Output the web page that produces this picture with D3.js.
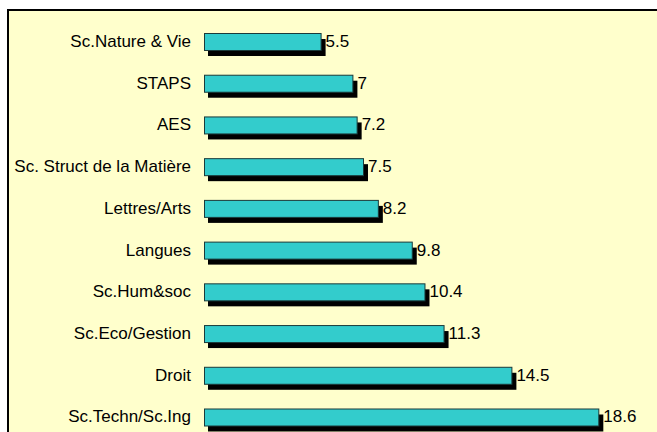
<!DOCTYPE html>
<html>
<head>
<meta charset="utf-8">
<script src="https://cdn.jsdelivr.net/npm/d3@7"></script>
<style>
  html, body { margin: 0; padding: 0; background: #fff; }
  svg { display: block; }
</style>
</head>
<body>
<div id="chart"></div>
<script>
// data, top to bottom
const categories = ['Sc.Nature & Vie','STAPS','AES','Sc. Struct de la Matière','Lettres/Arts',
  'Langues','Sc.Hum&soc','Sc.Eco/Gestion','Droit','Sc.Techn/Sc.Ing'];
const values = [5.5, 7, 7.2, 7.5, 8.2, 9.8, 10.4, 11.3, 14.5, 18.6];

const W = 657, H = 432;
const BAR_H = 17;
const FONT = 'Liberation Sans, Arial, sans-serif';

const svg = d3.select('#chart').append('svg')
  .attr('width', W)
  .attr('height', H);

// plot frame (runs past the bottom/right edge)
svg.append('rect')
  .attr('x', 8)
  .attr('y', 10)
  .attr('width', W + 20)
  .attr('height', H + 20)
  .attr('fill', '#FFFFCC')
  .attr('stroke', '#000')
  .attr('stroke-width', 2);

const x = d3.scaleLinear().domain([0, 20]).range([204, 628]);
const y = d3.scalePoint().domain(categories).range([41.5, 417]);

const rows = svg.append('g').selectAll('g')
  .data(categories.map((c, i) => ({cat: c, val: values[i]})))
  .join('g');

// shadow
rows.append('rect')
  .attr('x', x(0) + 4)
  .attr('y', d => y(d.cat) - BAR_H / 2 + 6)
  .attr('width', d => x(d.val) - x(0) + 1)
  .attr('height', BAR_H)
  .attr('fill', '#000');

rows.append('rect')
  .attr('x', x(0) + 0.5)
  .attr('y', d => y(d.cat) - BAR_H / 2 + 0.5)
  .attr('width', d => x(d.val) - x(0))
  .attr('height', BAR_H)
  .attr('fill', '#33CCCC')
  .attr('stroke', '#1a3a3a')
  .attr('stroke-width', 1);

rows.append('text')
  .attr('x', d => x(d.val) + 5)
  .attr('y', d => y(d.cat) + 1)
  .attr('dominant-baseline', 'middle')
  .attr('font-family', FONT)
  .attr('font-size', 17)
  .attr('fill', '#000')
  .text(d => d.val);

rows.append('text')
  .attr('x', 191)
  .attr('y', d => y(d.cat) + 1)
  .attr('text-anchor', 'end')
  .attr('dominant-baseline', 'middle')
  .attr('font-family', FONT)
  .attr('font-size', 17)
  .attr('fill', '#000')
  .text(d => d.cat);
</script>
</body>
</html>
